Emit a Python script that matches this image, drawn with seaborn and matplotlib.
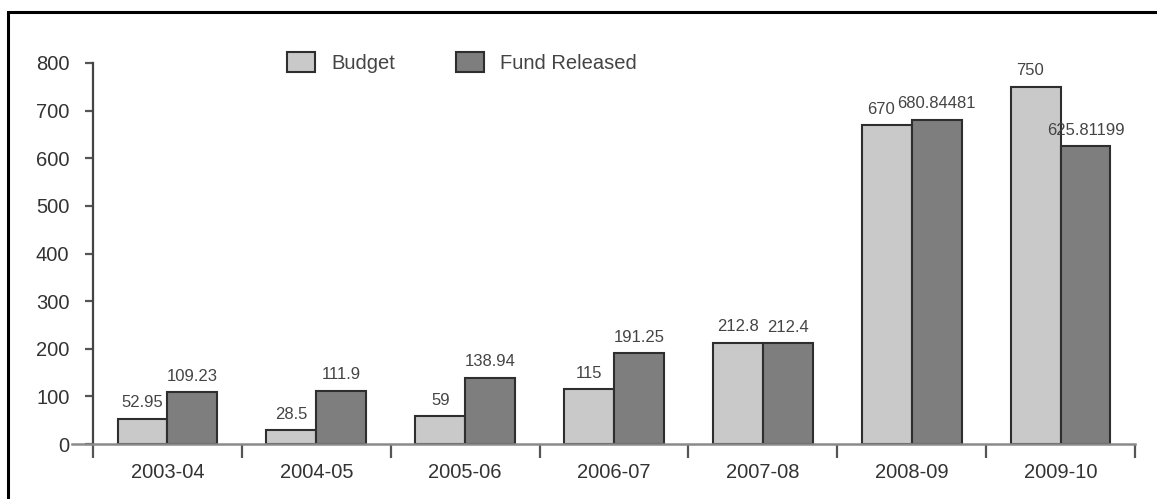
import matplotlib
matplotlib.use("Agg")
import matplotlib.pyplot as plt
import seaborn as sns
import pandas as pd
from matplotlib.patches import Rectangle


# --- DATA ---
years = ['2003-04', '2004-05', '2005-06', '2006-07', '2007-08', '2008-09', '2009-10']
budget = [52.95, 28.5, 59, 115, 212.8, 670, 750]
fund_released = [109.23, 111.9, 138.94, 191.25, 212.4, 680.84481, 625.81199]
series_names = ['Budget', 'Fund Released']
y_ticks = [0, 100, 200, 300, 400, 500, 600, 700, 800]

colors = ['#c9c9c9', '#7e7e7e']


def fmt(v):
    return ('%f' % v).rstrip('0').rstrip('.')


df = pd.DataFrame({
    'year': years * 2,
    'value': budget + fund_released,
    'series': [series_names[0]] * len(years) + [series_names[1]] * len(years),
})

sns.set_style('white')
plt.rcParams['font.family'] = ['Liberation Sans', 'DejaVu Sans']

fig = plt.figure(figsize=(11.57, 4.99), dpi=100)
ax = fig.add_axes([93 / 1157, 55 / 499, (1135 - 93) / 1157, 381 / 499])

sns.barplot(data=df, x='year', y='value', hue='series', palette=colors,
            width=0.67, edgecolor='#2e2e2e', linewidth=1.5, ax=ax,
            saturation=1, errorbar=None)

# value labels above each bar
label_sets = []
for cont, vals in zip(ax.containers, [budget, fund_released]):
    label_sets.append(ax.bar_label(cont, labels=[fmt(v) for v in vals],
                                   padding=6, fontsize=12, color='#444444'))

ax.set_xlim(-0.5, len(years) - 0.5)
ax.set_ylim(0, 800)
ax.set_yticks(y_ticks)
ax.set_xlabel('')
ax.set_ylabel('')

# axis styling
for s in ['top', 'right']:
    ax.spines[s].set_visible(False)
ax.spines['left'].set_color('#444444')
ax.spines['left'].set_linewidth(1.6)
ax.spines['bottom'].set_color('#8a8a8a')
ax.spines['bottom'].set_linewidth(1.8)
ax.spines['bottom'].set_bounds(-0.64, len(years) - 0.5)

ax.tick_params(axis='y', direction='out', length=6, width=1.6, color='#555555',
               pad=11, labelsize=14.5, labelcolor='#333333', left=True)
ax.tick_params(axis='x', which='major', length=0, pad=14, labelsize=14.5,
               labelcolor='#333333')
ax.set_xticks([i - 0.5 for i in range(len(years) + 1)], minor=True)
ax.tick_params(axis='x', which='minor', direction='out', length=10, width=1.6,
               color='#555555', bottom=True)

# legend across the top
leg = ax.legend(loc='upper left', bbox_to_anchor=(287 / 1157, 1 - 52 / 499),
                bbox_transform=fig.transFigure, ncol=2, frameon=False,
                fontsize=14.5, borderpad=0, borderaxespad=0,
                handlelength=1.4, handleheight=1.15, handletextpad=0.8,
                columnspacing=3.0)
for t in leg.get_texts():
    t.set_color('#444444')

# nudge a budget label left if it runs into its neighbour
fig.canvas.draw()
renderer = fig.canvas.get_renderer()
for b_lab, f_lab in zip(*label_sets):
    bb_b = b_lab.get_window_extent(renderer)
    bb_f = f_lab.get_window_extent(renderer)
    overlap = bb_b.x1 - bb_f.x0 + 3
    if overlap > 0:
        dx, dy = b_lab.xyann
        b_lab.xyann = (dx - overlap * 72 / fig.dpi, dy)

# outer frame (only top and left edges are in view)
fig.add_artist(Rectangle((8 / 1157, -0.1), 1.2, 0.1 + 1 - 12 / 499,
                         transform=fig.transFigure, fill=False,
                         edgecolor='black', linewidth=2.2))

plt.savefig('out.png', dpi=100)
plt.close()
